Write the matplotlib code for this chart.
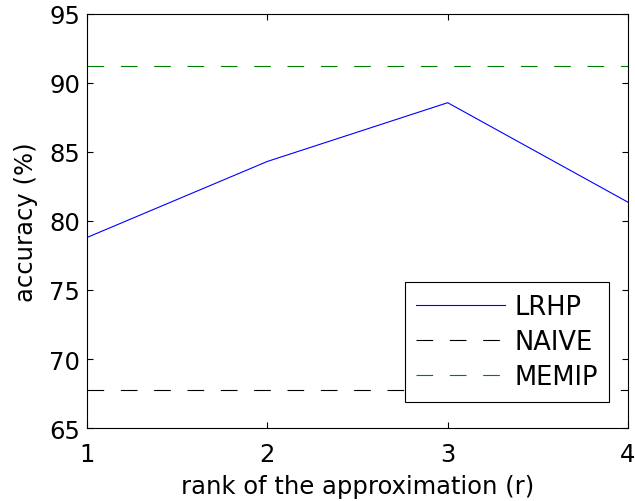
#Accuracy of the low rank approximation against the two baselines.

import matplotlib
matplotlib.use("Agg")
import matplotlib.pyplot as plt

#Data.
ranks = [1, 2, 3, 4]
lrhp_acc = [78.8, 84.3, 88.55, 81.35]
naive_acc = 67.75
memip_acc = 91.2

x_ticks = [1, 2, 3, 4]
y_ticks = [65, 70, 75, 80, 85, 90, 95]

plt.rcParams['font.family'] = ['DejaVu Sans']
plt.rcParams['font.size'] = 17.5
plt.rcParams['lines.scale_dashes'] = False

fig = plt.figure(figsize=(6.35, 5.02), dpi=100)
ax = fig.add_axes([0.137, 0.145, 0.852, 0.826])

ax.plot(ranks, lrhp_acc, color=(0, 0, 1), lw=0.8, label='LRHP')
ax.plot([ranks[0], ranks[-1]], [naive_acc, naive_acc], color='black', lw=0.8,
        dashes=(12, 12), label='NAIVE')
ax.plot([ranks[0], ranks[-1]], [memip_acc, memip_acc], color=(0, 0.5, 0), lw=0.8,
        dashes=(12, 12), label='MEMIP')

ax.set_xlim(1, 4)
ax.set_ylim(65, 95)
ax.set_xticks(x_ticks)
ax.set_yticks(y_ticks)
ax.tick_params(direction='in', length=4, width=0.8, top=True, right=True)
ax.tick_params(axis='x', pad=10)
ax.tick_params(axis='y', pad=5)
for s in ax.spines.values():
    s.set_linewidth(0.8)

ax.set_xlabel("rank of the approximation (r)", labelpad=6)
ax.set_ylabel("accuracy (%)", labelpad=8)

leg = ax.legend(loc='lower right', bbox_to_anchor=(0.965, 0.064), borderaxespad=0,
                fancybox=False, framealpha=1, edgecolor='black', fontsize=18.5,
                handlelength=3.45, handletextpad=0.35, labelspacing=0.36,
                borderpad=0.45)
leg.get_frame().set_linewidth(0.8)

fig.savefig("out.png", dpi=100)
